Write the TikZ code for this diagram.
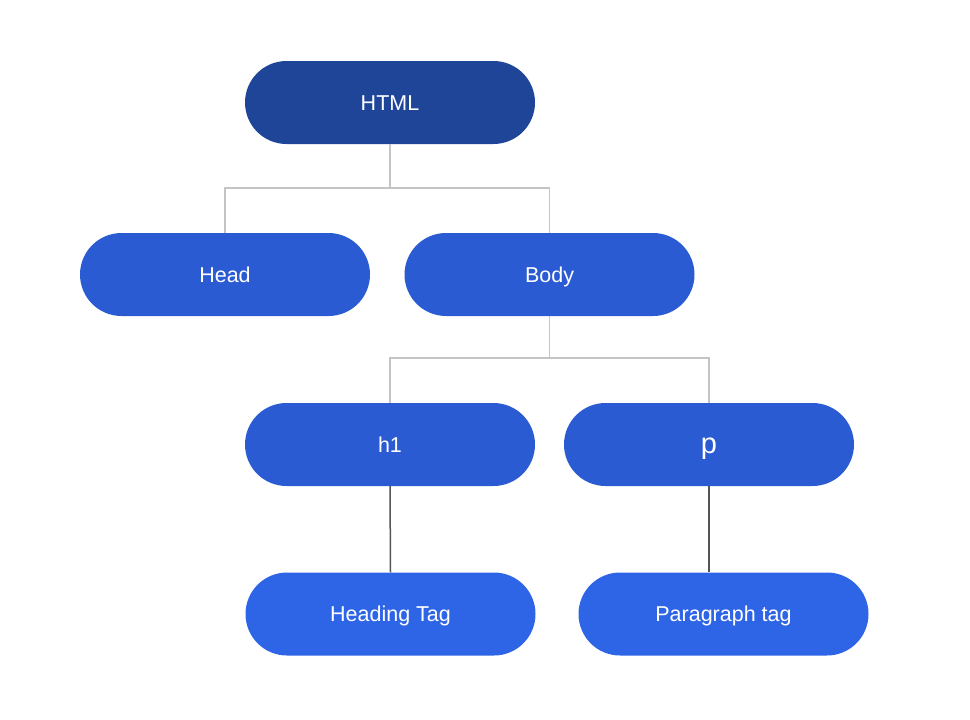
\documentclass[tikz,border=0pt]{standalone}
\usepackage{fontspec}
\setmainfont{Liberation Sans}
\definecolor{topblue}{HTML}{1F4599}
\definecolor{midblue}{HTML}{2A5BD3}
\definecolor{lowblue}{HTML}{2E64E6}
\definecolor{lightline}{HTML}{C4C4C4}
\definecolor{darkline}{HTML}{555555}
\begin{document}
\begin{tikzpicture}[x=1pt,y=-1pt,
  pill/.style={rounded corners=41.5pt, minimum width=290pt, minimum height=83pt,
    inner sep=0pt, text=white, font=\fontsize{21.5}{25}\selectfont,
    text height=15.4pt, text depth=0pt},
  light/.style={draw=lightline, line width=1.5pt},
  dark/.style={draw=darkline, line width=1.5pt}]
\useasboundingbox[fill=white] (0,0) rectangle (970,720);
\node[pill, fill=topblue] (html) at (390,102.5) {HTML};
\node[pill, fill=midblue] (head) at (225,274.5) {Head};
\node[pill, fill=midblue] (body) at (549.5,274.5) {Body};
\node[pill, fill=midblue] (h1) at (390,444.5) {h1};
\node[pill, fill=midblue, font=\fontsize{29}{32}\selectfont, text height=17pt] (p) at (709,444.5) {p};
\node[pill, fill=lowblue] (ht) at (390.5,614) {Heading Tag};
\node[pill, fill=lowblue] (pt) at (723.5,614) {Paragraph tag};
\coordinate (j1) at (390,188);
\coordinate (j2) at (549.5,358);
\draw[light] (html.south) -- (j1);
\draw[light] (head.north) |- (j1) -| (body.north);
\draw[light] (body.south) -- (j2);
\draw[light] (h1.north) |- (j2) -| (p.north);
\draw[dark] (h1.south) -- (ht.north);
\draw[dark] (p.south) -- (p.south |- pt.north);
\end{tikzpicture}
\end{document}
